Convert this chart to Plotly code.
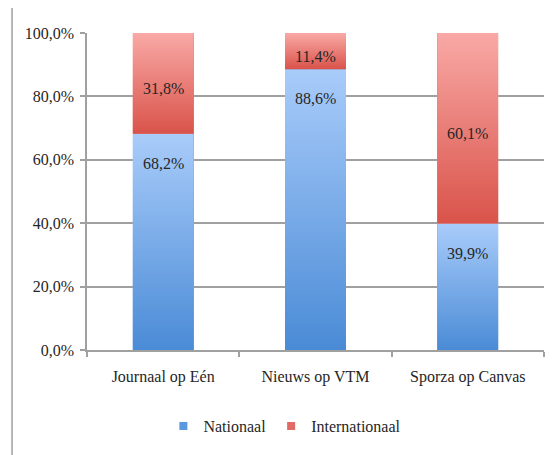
import plotly.graph_objects as go

categories = ["Journaal op Eén", "Nieuws op VTM", "Sporza op Canvas"]
nationaal = [0.682, 0.886, 0.399]
internationaal = [0.318, 0.114, 0.601]
series_names = ["Nationaal", "Internationaal"]
y_ticks = [0, 0.2, 0.4, 0.6, 0.8, 1.0]

FONT = "'Liberation Serif', Tinos, 'Times New Roman', 'DejaVu Serif', serif"
TXT = "#262626"
GRID = "#a0a0a0"
BLUE_LIGHT, BLUE_DARK, BLUE_MID = "#a9ccfa", "#4a8bd6", "#6fa6ea"
RED_LIGHT, RED_DARK, RED_MID = "#f9a9a6", "#d9534a", "#ec7c76"
BAR_W = 0.4

xs = list(range(len(categories)))
fig = go.Figure()

# base bars
fig.add_trace(go.Bar(x=xs, y=nationaal, width=BAR_W, marker=dict(color=BLUE_MID, line=dict(width=0)),
                     showlegend=False, hoverinfo="skip"))
fig.add_trace(go.Bar(x=xs, y=internationaal, width=BAR_W, marker=dict(color=RED_MID, line=dict(width=0)),
                     showlegend=False, hoverinfo="skip"))

# gradient overlays per segment, computed from the data
for i, (n, t) in enumerate(zip(nationaal, internationaal)):
    for y0, y1, light, dark in [(0, n, BLUE_LIGHT, BLUE_DARK), (n, n + t, RED_LIGHT, RED_DARK)]:
        x0, x1 = i - BAR_W / 2, i + BAR_W / 2
        fig.add_trace(go.Scatter(
            x=[x0, x1, x1, x0, x0], y=[y0, y0, y1, y1, y0],
            mode="lines", line=dict(width=0), fill="toself",
            fillgradient=dict(type="vertical", colorscale=[[0, dark], [1, light]], start=y0, stop=y1),
            showlegend=False, hoverinfo="skip"))

# legend entries
for name, col in zip(series_names, ["#5b98de", "#e06a64"]):
    fig.add_trace(go.Scatter(x=[None], y=[None], mode="markers", name=name,
                             marker=dict(symbol="square", size=8, color=col)))

# data labels
ann = []
for i, (n, t) in enumerate(zip(nationaal, internationaal)):
    ann.append(dict(x=i, y=n, xref="x", yref="y", text=f"{n*100:.1f}%".replace(".", ","),
                    showarrow=False, yanchor="top", yshift=-19, font=dict(family=FONT, size=16, color=TXT)))
    ann.append(dict(x=i, y=n + t / 2, xref="x", yref="y", text=f"{t*100:.1f}%".replace(".", ","),
                    showarrow=False, yanchor="middle", yshift=-5, font=dict(family=FONT, size=16, color=TXT)))

fig.update_layout(
    barmode="stack",
    width=550, height=447,
    margin=dict(l=79, r=14, t=25, b=105),
    paper_bgcolor="white", plot_bgcolor="white",
    separators=", ",
    font=dict(family=FONT, size=16, color=TXT),
    showlegend=True,
    legend=dict(orientation="h", x=0.433, xanchor="center", y=-0.24, yanchor="middle",
                traceorder="normal",
                font=dict(family=FONT, size=16, color=TXT), itemwidth=30,
                bgcolor="rgba(0,0,0,0)"),
    annotations=ann,
    shapes=[dict(type="rect", xref="paper", yref="paper", x0=-0.164, x1=1.2, y0=-0.4, y1=1.088,
                 line=dict(color="#a0a0a0", width=1.5), fillcolor="rgba(0,0,0,0)", layer="below")],
)
fig.update_xaxes(
    range=[-0.5, 2.5], tickmode="array", tickvals=xs, ticktext=categories,
    ticks="", showgrid=False, zeroline=False,
    showline=True, linecolor=GRID, linewidth=1.5,
    minor=dict(tickmode="linear", tick0=0.5, dtick=1, ticks="outside", ticklen=5, tickcolor=GRID, tickwidth=1.5, showgrid=False),
    ticklabelstandoff=11,
    tickfont=dict(family=FONT, size=16, color=TXT), fixedrange=True,
)
fig.update_yaxes(
    range=[0, 1], tickmode="array", tickvals=y_ticks, tickformat=".1%",
    showgrid=True, gridcolor=GRID, gridwidth=1.5, zeroline=False,
    showline=True, linecolor=GRID, linewidth=1.5,
    ticks="outside", ticklen=5, tickcolor=GRID, tickwidth=1.5,
    ticklabelstandoff=3,
    tickfont=dict(family=FONT, size=16, color=TXT), fixedrange=True,
)

fig.write_html("out.html")
